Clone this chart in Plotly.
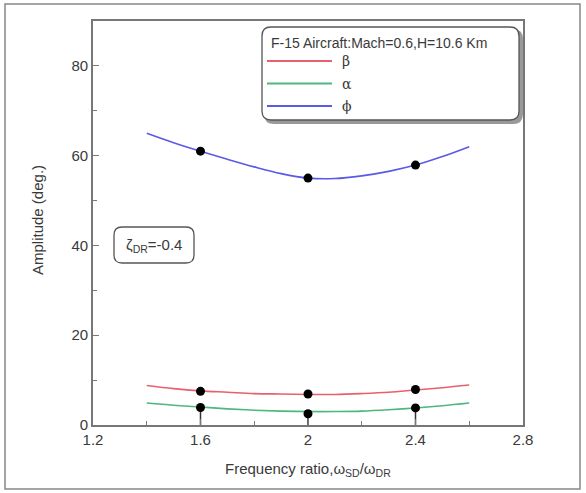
import plotly.graph_objects as go

# ---- data ----
curve_x = [1.4, 1.5, 1.6, 1.7, 1.8, 1.9, 2.0, 2.1, 2.2, 2.3, 2.4, 2.5, 2.6]
phi_curve = [65.0, 62.9, 61.0, 59.2, 57.5, 56.0, 55.0, 54.9, 55.5, 56.5, 57.9, 59.8, 62.0]
beta_curve = [8.8, 8.1, 7.6, 7.3, 7.0, 6.9, 6.8, 6.8, 7.0, 7.3, 7.8, 8.3, 8.9]
alpha_curve = [4.9, 4.4, 4.0, 3.6, 3.3, 3.1, 3.0, 3.0, 3.1, 3.4, 3.8, 4.3, 4.9]

pt_x = [1.6, 2.0, 2.4]
phi_pts = [61.0, 55.0, 57.9]
beta_pts = [7.5, 6.9, 7.9]
alpha_pts = [3.9, 2.5, 3.8]

x_ticks = [1.2, 1.6, 2.0, 2.4, 2.8]
x_ticktext = ["1.2", "1.6", "2", "2.4", "2.8"]
y_ticks = [0, 20, 40, 60, 80]

series_names = ["β", "α", "ϕ"]
series_colors = ["#e8606c", "#4cb87e", "#5a5ae6"]

# ---- layout geometry (pixels) ----
W, H = 586, 493
L, R, T, B = 93, 63, 21, 68
PW, PH = W - L - R, H - T - B


def px(x):
    return (x - L) / PW


def py(y):
    return (H - B - y) / PH


FONT = "Liberation Sans, Arial, sans-serif"
TXT = "#3a3a3a"

fig = go.Figure()

for name, col, ys in zip(series_names, series_colors, [beta_curve, alpha_curve, phi_curve]):
    fig.add_trace(go.Scatter(x=curve_x, y=ys, mode="lines", name=name,
                             line=dict(color=col, width=1.6, shape="spline"),
                             showlegend=False))

# stems from alpha points down to the axis
for xv, yv in zip(pt_x, alpha_pts):
    fig.add_trace(go.Scatter(x=[xv, xv], y=[0, yv], mode="lines",
                             line=dict(color="#333", width=1.5),
                             showlegend=False, hoverinfo="skip", cliponaxis=False))

for ys in [phi_pts, beta_pts, alpha_pts]:
    fig.add_trace(go.Scatter(x=pt_x, y=ys, mode="markers",
                             marker=dict(color="black", size=9), showlegend=False))

shapes = []
annotations = []

# outer frame
shapes.append(dict(type="rect", xref="paper", yref="paper",
                   x0=px(5), x1=px(580), y0=py(489), y1=py(4),
                   line=dict(color="#888", width=1.5), layer="below"))


def rounded(x0, y0, x1, y1, r):
    rx, ry = r / PW, r / PH
    a0, a1 = px(x0), px(x1)
    b0, b1 = py(y1), py(y0)  # b0 bottom, b1 top
    return (f"M {a0+rx},{b1} L {a1-rx},{b1} Q {a1},{b1} {a1},{b1-ry} "
            f"L {a1},{b0+ry} Q {a1},{b0} {a1-rx},{b0} L {a0+rx},{b0} "
            f"Q {a0},{b0} {a0},{b0+ry} L {a0},{b1-ry} Q {a0},{b1} {a0+rx},{b1} Z")


# legend box with shadow
shapes.append(dict(type="path", xref="paper", yref="paper",
                   path=rounded(265, 30, 522, 123, 9),
                   line=dict(color="#999", width=2), fillcolor="#999"))
shapes.append(dict(type="path", xref="paper", yref="paper",
                   path=rounded(262, 27, 519, 120, 9),
                   line=dict(color="#555", width=1.3), fillcolor="white"))
annotations.append(dict(xref="paper", yref="paper", x=px(269), y=py(43),
                        xanchor="left", yanchor="middle", showarrow=False,
                        text="F-15 Aircraft:Mach=0.6,H=10.6 Km",
                        font=dict(family=FONT, size=14, color=TXT)))
for i, (name, col) in enumerate(zip(series_names, series_colors)):
    yy = 61 + i * 22.5
    shapes.append(dict(type="line", xref="paper", yref="paper",
                       x0=px(267), x1=px(332), y0=py(yy), y1=py(yy),
                       line=dict(color=col, width=2)))
    annotations.append(dict(xref="paper", yref="paper", x=px(340), y=py(yy),
                            xanchor="left", yanchor="middle", showarrow=False,
                            text=name, font=dict(family="DejaVu Serif, serif", size=14, color=TXT)))

# zeta box
shapes.append(dict(type="path", xref="paper", yref="paper",
                   path=rounded(114, 227, 194, 263, 8),
                   line=dict(color="#555", width=1.3), fillcolor="white"))
annotations.append(dict(xref="paper", yref="paper", x=px(154), y=py(245),
                        xanchor="center", yanchor="middle", showarrow=False,
                        text="ζ<sub>DR</sub>=-0.4",
                        font=dict(family=FONT, size=15, color=TXT)))

# axis titles
annotations.append(dict(xref="paper", yref="paper", x=px(308), y=py(469),
                        xanchor="center", yanchor="middle", showarrow=False,
                        text="Frequency ratio,ω<sub>SD</sub>/ω<sub>DR</sub>",
                        font=dict(family=FONT, size=15, color=TXT)))
annotations.append(dict(xref="paper", yref="paper", x=px(37), y=py(220),
                        xanchor="center", yanchor="middle", showarrow=False,
                        textangle=-90, text="Amplitude (deg.)",
                        font=dict(family=FONT, size=15, color=TXT)))

axis_common = dict(showline=True, linecolor="#777", linewidth=1.8, mirror=True,
                   ticks="inside", ticklen=6, tickwidth=1.3, tickcolor="#777",
                   showgrid=False, zeroline=False,
                   tickfont=dict(family=FONT, size=15, color=TXT))

fig.update_layout(
    width=W, height=H,
    margin=dict(l=L, r=R, t=T, b=B),
    paper_bgcolor="white", plot_bgcolor="white",
    showlegend=False,
    shapes=shapes, annotations=annotations,
    xaxis=dict(range=[1.2, 2.8], tickvals=x_ticks, ticktext=x_ticktext,
               minor=dict(tickvals=[1.4, 1.8, 2.2, 2.6], ticks="inside", ticklen=4,
                          tickcolor="#777", tickwidth=1.2),
               **axis_common),
    yaxis=dict(range=[0, 90], tickvals=y_ticks,
               minor=dict(tickvals=[10, 30, 50, 70], ticks="inside", ticklen=4,
                          tickcolor="#777", tickwidth=1.2),
               **axis_common),
)

fig.write_html("out.html")
